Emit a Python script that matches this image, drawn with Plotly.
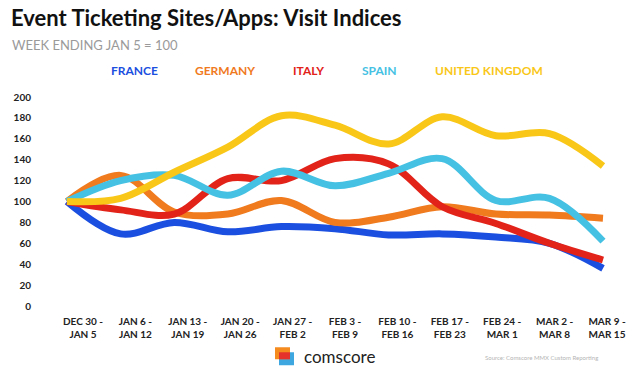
import plotly.graph_objects as go

weeks = ["DEC 30 -<br>JAN 5", "JAN 6 -<br>JAN 12", "JAN 13 -<br>JAN 19", "JAN 20 -<br>JAN 26",
         "JAN 27 -<br>FEB 2", "FEB 3 -<br>FEB 9", "FEB 10 -<br>FEB 16", "FEB 17 -<br>FEB 23",
         "FEB 24 -<br>MAR 1", "MAR 2 -<br>MAR 8", "MAR 9 -<br>MAR 15"]

france = [100, 69, 80, 71, 76, 74, 68, 69, 66, 60, 36]
germany = [100, 125, 90, 88, 101, 80, 85, 95, 88, 87, 84]
italy = [100, 92, 88, 122, 120, 141, 136, 95, 79, 60, 44]
spain = [100, 120, 125, 106, 129, 115, 127, 141, 101, 103, 62]
uk = [100, 103, 128, 152, 182, 173, 155, 181, 163, 165, 134]

series_names = ["FRANCE", "GERMANY", "ITALY", "SPAIN", "UNITED KINGDOM"]
series_values = [france, germany, italy, spain, uk]
series_colors = ["#1B4FE0", "#F07A1E", "#E2231A", "#45C1E3", "#F9C718"]
legend_x = [134, 225, 308, 379, 489]

y_ticks = list(range(0, 201, 20))

W, H = 640, 372
L, R = 40, 630
top, bottom = 96.5, 305.7
pw = R - L
ph = bottom - top


def px(x):
    return (x - L) / pw


def py(y):
    return (bottom - y) / ph


fig = go.Figure()
idx = list(range(len(weeks)))
for name, vals, col in zip(series_names, series_values, series_colors):
    fig.add_trace(go.Scatter(
        x=idx, y=vals, mode="lines", name=name,
        line=dict(color=col, width=7, shape="spline", smoothing=1.0),
        showlegend=False, hoverinfo="skip"))

# invisible trace carrying the category labels axis
fig.add_trace(go.Scatter(x=idx, y=[None] * len(idx), xaxis="x2", mode="lines",
                         showlegend=False, hoverinfo="skip"))

# legend as colored text
for name, col, lx in zip(series_names, series_colors, legend_x):
    fig.add_annotation(x=px(lx), y=py(70), xref="paper", yref="paper",
                       text=name, showarrow=False, xanchor="center", yanchor="middle",
                       font=dict(family="Lato", size=12, color=col, weight="bold"))

fig.add_annotation(x=px(9), y=py(17), xref="paper", yref="paper",
                   text="Event Ticketing Sites/Apps: Visit Indices", showarrow=False,
                   xanchor="left", yanchor="middle",
                   font=dict(family="Lato", size=22, color="#111111", weight="bold"))
fig.add_annotation(x=px(10), y=py(44), xref="paper", yref="paper",
                   text="WEEK ENDING JAN 5 = 100", showarrow=False,
                   xanchor="left", yanchor="middle",
                   font=dict(family="Lato", size=13, color="#9a9a9a"))

# comscore logo
fig.add_shape(type="rect", xref="paper", yref="paper",
              x0=px(279), x1=px(294), y0=py(365), y1=py(352),
              fillcolor="#3FA7E0", line_width=0)
fig.add_shape(type="rect", xref="paper", yref="paper",
              x0=px(275), x1=px(290), y0=py(359), y1=py(347),
              fillcolor="#F58A1F", line_width=0)
fig.add_shape(type="rect", xref="paper", yref="paper",
              x0=px(279), x1=px(290), y0=py(359), y1=py(352),
              fillcolor="#E5322B", line_width=0)
fig.add_annotation(x=px(302), y=py(356), xref="paper", yref="paper",
                   text="comscore", showarrow=False, xanchor="left", yanchor="middle",
                   font=dict(family="Lato", size=17, color="#222222"))
fig.add_annotation(x=px(600), y=py(357), xref="paper", yref="paper",
                   text="Source: Comscore MMX Custom Reporting", showarrow=False,
                   xanchor="right", yanchor="middle",
                   font=dict(family="Lato", size=6, color="#b5b5b5"))

r = 0.5037
# label axis: first label at 83px, last at 607px
sp = (607 - 83) / 10
a2 = -(83 - L) / sp
b2 = a2 + pw / sp

fig.update_layout(
    width=W, height=H,
    margin=dict(l=L, r=W - R, t=top, b=H - bottom, autoexpand=False),
    paper_bgcolor="white", plot_bgcolor="white",
    xaxis=dict(range=[-r, 10 + r], showticklabels=False, showgrid=False,
               zeroline=False, showline=False, fixedrange=True, automargin=False),
    xaxis2=dict(overlaying="x", side="bottom", range=[a2, b2],
                tickmode="array", tickvals=idx, ticktext=weeks,
                showgrid=False, zeroline=False, showline=False, ticks="",
                ticklabelstandoff=8, automargin=False,
                tickfont=dict(family="Lato", size=10, color="#222222", weight="bold")),
    yaxis=dict(range=[0, 200], tickmode="array", tickvals=y_ticks,
               showgrid=False, zeroline=False, showline=False, ticks="",
               ticklabelstandoff=8, automargin=False,
               tickfont=dict(family="Lato", size=10, color="#222222", weight="bold")),
)

fig.write_html("out.html", config={"displayModeBar": False},
               post_script="document.body.style.margin='0';document.body.style.overflow='hidden';")
